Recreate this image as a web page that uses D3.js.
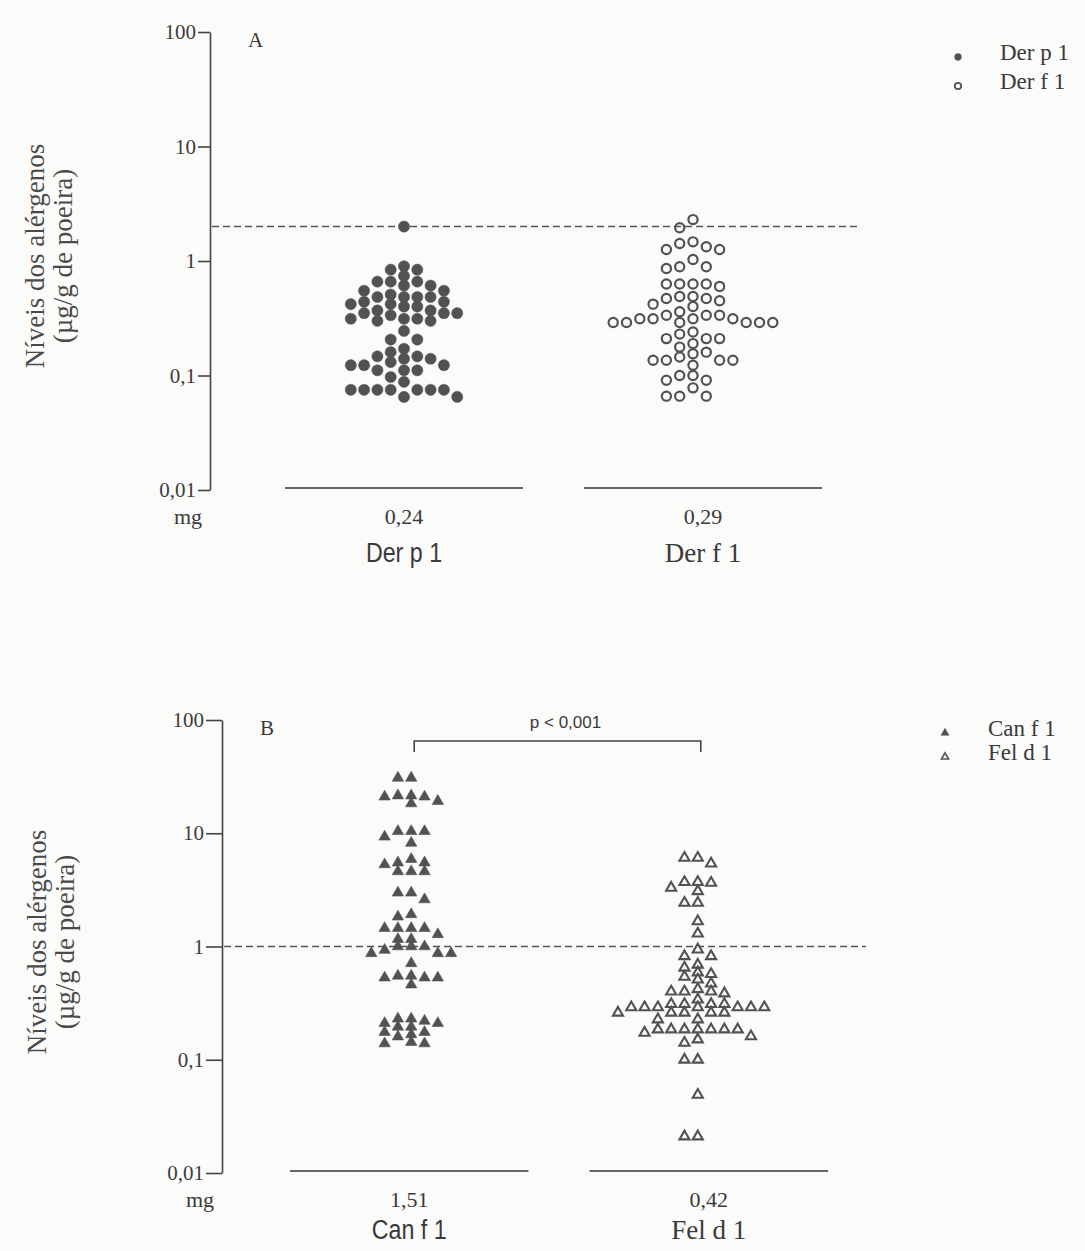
<!DOCTYPE html>
<html>
<head>
<meta charset="utf-8">
<script src="https://cdn.jsdelivr.net/npm/d3@7"></script>
<style>
  body { margin: 0; background: #fbfbfa; }
  svg { display: block; }
  .serif { font-family: "Liberation Serif", "Times New Roman", serif; }
  .sans { font-family: "Liberation Sans", Arial, sans-serif; }
  .axis text { font-family: "Liberation Serif", serif; font-size: 21px; fill: #3c3c3c; }
  .axis path, .axis line { stroke: #444; stroke-width: 1.6; }
</style>
</head>
<body>
<svg id="allergens" width="1085" height="1251"></svg>
<script>
// values (µg/g de poeira)
const derP1 = [2.0, 0.90, 0.84, 0.84, 0.74, 0.66, 0.66, 0.66, 0.61, 0.61, 0.55, 0.55, 0.51,
  0.485, 0.485, 0.485, 0.485, 0.44, 0.44, 0.42, 0.42, 0.40, 0.40, 0.37, 0.37, 0.35, 0.35, 0.35,
  0.336, 0.313, 0.313, 0.313, 0.30, 0.30, 0.245, 0.206, 0.206, 0.171, 0.160, 0.147, 0.147,
  0.140, 0.140, 0.131, 0.123, 0.123, 0.123, 0.111, 0.111, 0.111, 0.097, 0.088,
  0.075, 0.075, 0.075, 0.075, 0.075, 0.075, 0.075, 0.065, 0.065];
const derF1 = [2.3, 1.95, 1.47, 1.42, 1.33, 1.26, 1.26, 1.03, 0.89, 0.89, 0.86,
  0.63, 0.63, 0.63, 0.63, 0.60, 0.49, 0.49, 0.47, 0.47, 0.45, 0.42, 0.40, 0.36,
  0.336, 0.336, 0.336, 0.313, 0.313, 0.313, 0.313, 0.29, 0.29, 0.29, 0.29, 0.29, 0.29,
  0.24, 0.23, 0.21, 0.21, 0.21, 0.19, 0.177, 0.16, 0.155, 0.145,
  0.136, 0.136, 0.136, 0.136, 0.123, 0.10, 0.10, 0.091, 0.091, 0.078, 0.066, 0.066, 0.066];
const canF1 = [30.8, 30.8, 21.5, 21.5, 21, 21, 19.2, 18.3, 10.4, 10.4, 10.4, 9.3, 8.2,
  5.9, 5.5, 5.5, 5.3, 4.6, 4.6, 4.6, 2.98, 2.98, 2.6, 1.92, 1.83, 1.45, 1.45, 1.45, 1.45,
  1.28, 1.16, 1.16, 1.0, 1.0, 1.0, 0.93, 0.87, 0.87, 0.87, 0.71, 0.55, 0.55, 0.53, 0.53, 0.53,
  0.46, 0.23, 0.23, 0.22, 0.21, 0.21, 0.195, 0.195, 0.175, 0.175, 0.167, 0.16, 0.143, 0.139, 0.139];
const felD1 = [6.07, 6.07, 5.4, 3.7, 3.7, 3.65, 3.3, 3.08, 2.43, 2.43, 1.67, 1.30, 0.94,
  0.82, 0.82, 0.69, 0.65, 0.59, 0.57, 0.54, 0.51, 0.47, 0.42, 0.40, 0.40, 0.40, 0.385, 0.34,
  0.31, 0.31, 0.31, 0.31, 0.29, 0.29, 0.29, 0.29, 0.29, 0.29, 0.29,
  0.26, 0.26, 0.26, 0.26, 0.26, 0.227, 0.227,
  0.185, 0.185, 0.185, 0.185, 0.185, 0.185, 0.185, 0.173, 0.161, 0.151, 0.141,
  0.10, 0.10, 0.049, 0.021, 0.021];

const catsA = ["Der p 1", "Der f 1"];
const catsB = ["Can f 1", "Fel d 1"];
const mgA = ["0,24", "0,29"];
const mgB = ["1,51", "0,42"];
const cutA = 2;
const cutB = 1;
const yTicks = [0.01, 0.1, 1, 10, 100];
const yTickLabels = ["0,01", "0,1", "1", "10", "100"];
const pLabel = "p < 0,001";

document.addEventListener('DOMContentLoaded', _ => {
  const svg = d3.select("svg#allergens");
  const ink = "#525252";
  const bg = "#fbfbfa";
  const textColor = "#3a3a3a";

  // these category names are set in a narrow sans face, the others in serif
  const sansLabels = ["Der p 1", "Can f 1"];

  // column beeswarm: each point takes the nearest free slot (0, -1, +1, -2, ...)
  function swarm(values, yScale, cx, step, minGap) {
    let placed = [];
    return values.slice().sort((a, b) => b - a).map(v => {
      let y = yScale(v);
      for (let i = 0; ; i++) {
        let col = i === 0 ? 0 : (i % 2 ? -Math.ceil(i / 2) : Math.ceil(i / 2));
        let clash = placed.some(p => p.col === col && Math.abs(p.y - y) < minGap);
        if (!clash) {
          placed.push({ col: col, y: y });
          return { value: v, x: cx + col * step, y: y };
        }
      }
    });
  }

  function drawPanel(p) {
    let g = svg.append("g");

    let yScale = d3.scaleLog().domain([0.01, 100]).range([p.bottom, p.top]);
    let xScale = d3.scaleBand().domain(p.cats).range([p.left, p.right]).paddingInner(0.204).paddingOuter(0);

    // y axis
    let leftAxis = d3.axisLeft(yScale)
      .tickValues(yTicks)
      .tickFormat((d, i) => yTickLabels[i])
      .tickSize(p.tick)
      .tickSizeOuter(0)
      .tickPadding(2);
    g.append("g").attr("class", "axis")
      .attr("transform", "translate(" + p.axisX + ",0)")
      .call(leftAxis);

    // axis title, two lines
    let title = g.append("text")
      .attr("class", "serif")
      .attr("transform", `rotate(-90,${p.titleX},${p.titleY})`)
      .attr("x", p.titleX)
      .attr("y", p.titleY)
      .attr("text-anchor", "middle")
      .attr("font-size", 27)
      .attr("fill", "#4a4a4a");
    title.append("tspan").attr("x", p.titleX).attr("dy", 0).text("Níveis dos alérgenos");
    title.append("tspan").attr("x", p.titleX).attr("dy", 28).text("(µg/g de poeira)");

    // panel letter
    g.append("text").attr("class", "serif")
      .text(p.letter)
      .attr("x", p.axisX + 38)
      .attr("y", yScale(100) + 15)
      .attr("font-size", 21)
      .attr("fill", textColor);

    // dashed cut-off line
    g.append("line")
      .attr("x1", p.axisX + 2)
      .attr("x2", p.dashEnd)
      .attr("y1", yScale(p.cut))
      .attr("y2", yScale(p.cut))
      .attr("stroke", ink)
      .attr("stroke-width", 1.6)
      .attr("stroke-dasharray", "7,4");

    g.append("text").attr("class", "serif")
      .text("mg")
      .attr("x", p.axisX - 8)
      .attr("y", p.bottom + 34)
      .attr("text-anchor", "end")
      .attr("font-size", 22)
      .attr("fill", textColor);

    p.cats.forEach((c, i) => {
      let cx = xScale(c) + xScale.bandwidth() / 2;

      // baseline under each column, mg value and name
      g.append("line")
        .attr("x1", xScale(c))
        .attr("x2", xScale(c) + xScale.bandwidth())
        .attr("y1", p.bottom - 2)
        .attr("y2", p.bottom - 2)
        .attr("stroke", "#333")
        .attr("stroke-width", 1.7);
      g.append("text").attr("class", "serif")
        .text(p.mg[i])
        .attr("x", cx)
        .attr("y", p.bottom + 34)
        .attr("text-anchor", "middle")
        .attr("font-size", 22)
        .attr("fill", textColor);
      let name = g.append("text").attr("class", sansLabels.includes(c) ? "sans" : "serif")
        .text(c)
        .attr("x", cx)
        .attr("y", p.bottom + p.nameDy)
        .attr("text-anchor", "middle")
        .attr("font-size", 27)
        .attr("fill", textColor);
      if (sansLabels.includes(c)) {
        let w = name.node().getComputedTextLength();
        name.attr("textLength", w * 0.86).attr("lengthAdjust", "spacingAndGlyphs");
      }

      // points
      let pts = swarm(p.values[i], yScale, cx + p.shift[i], 13.3, p.minGap);
      if (p.shape === "circle") {
        g.selectAll(null).data(pts).enter().append("circle")
          .attr("cx", d => d.x)
          .attr("cy", d => d.y)
          .attr("r", i === 0 ? 5.6 : 4.6)
          .attr("fill", i === 0 ? ink : "none")
          .attr("stroke", ink)
          .attr("stroke-width", i === 0 ? 0.5 : 2.2);
      } else {
        let sym = d3.symbol(d3.symbolTriangle).size(i === 0 ? 56 : 44);
        g.selectAll(null).data(pts).enter().append("path")
          .attr("d", sym)
          .attr("transform", d => "translate(" + d.x + "," + d.y + ")")
          .attr("fill", i === 0 ? ink : bg)
          .attr("stroke", ink)
          .attr("stroke-width", i === 0 ? 0.6 : 2.1);
      }
    });

    // legend
    p.cats.forEach((c, i) => {
      let ly = p.legendY + i * p.legendGap;
      if (p.shape === "circle") {
        g.append("circle")
          .attr("cx", p.legendX)
          .attr("cy", ly)
          .attr("r", i === 0 ? 3.4 : 3.2)
          .attr("fill", i === 0 ? ink : "none")
          .attr("stroke", ink)
          .attr("stroke-width", i === 0 ? 0.5 : 1.8);
      } else {
        g.append("path")
          .attr("d", d3.symbol(d3.symbolTriangle).size(i === 0 ? 28 : 22))
          .attr("transform", "translate(" + p.legendX + "," + ly + ")")
          .attr("fill", i === 0 ? ink : bg)
          .attr("stroke", ink)
          .attr("stroke-width", i === 0 ? 0.5 : 1.6);
      }
      g.append("text").attr("class", "serif")
        .text(c)
        .attr("x", p.legendX + p.legendTextGap)
        .attr("y", ly + 3)
        .attr("font-size", 23)
        .attr("fill", textColor);
    });

    return { xScale: xScale, yScale: yScale, g: g };
  }

  drawPanel({
    letter: "A", cats: catsA, values: [derP1, derF1], mg: mgA, cut: cutA, shape: "circle",
    top: 32, bottom: 490, left: 285, right: 822, axisX: 210, tick: 12, dashEnd: 860,
    shift: [0, -10], minGap: 9.5, nameDy: 72, titleX: 44, titleY: 256,
    legendX: 958, legendY: 57, legendGap: 29, legendTextGap: 42
  });

  let b = drawPanel({
    letter: "B", cats: catsB, values: [canF1, felD1], mg: mgB, cut: cutB, shape: "triangle",
    top: 720, bottom: 1173, left: 290, right: 828, axisX: 222, tick: 16, dashEnd: 866,
    shift: [2, -11], minGap: 7, nameDy: 66, titleX: 46, titleY: 942,
    legendX: 945, legendY: 733, legendGap: 24, legendTextGap: 43
  });

  // significance bracket between the two columns of panel B
  let x1 = b.xScale(catsB[0]) + b.xScale.bandwidth() / 2 + 5;
  let x2 = b.xScale(catsB[1]) + b.xScale.bandwidth() / 2 - 8;
  let yb = b.yScale(100) + 21;
  b.g.append("path")
    .attr("d", `M${x1},${yb + 11}V${yb}H${x2}V${yb + 11}`)
    .attr("fill", "none")
    .attr("stroke", "#444")
    .attr("stroke-width", 1.6);
  b.g.append("text").attr("class", "sans")
    .text(pLabel)
    .attr("x", (x1 + x2) / 2 + 8)
    .attr("y", yb - 13)
    .attr("text-anchor", "middle")
    .attr("font-size", 17)
    .attr("fill", textColor);
});
</script>
</body>
</html>
